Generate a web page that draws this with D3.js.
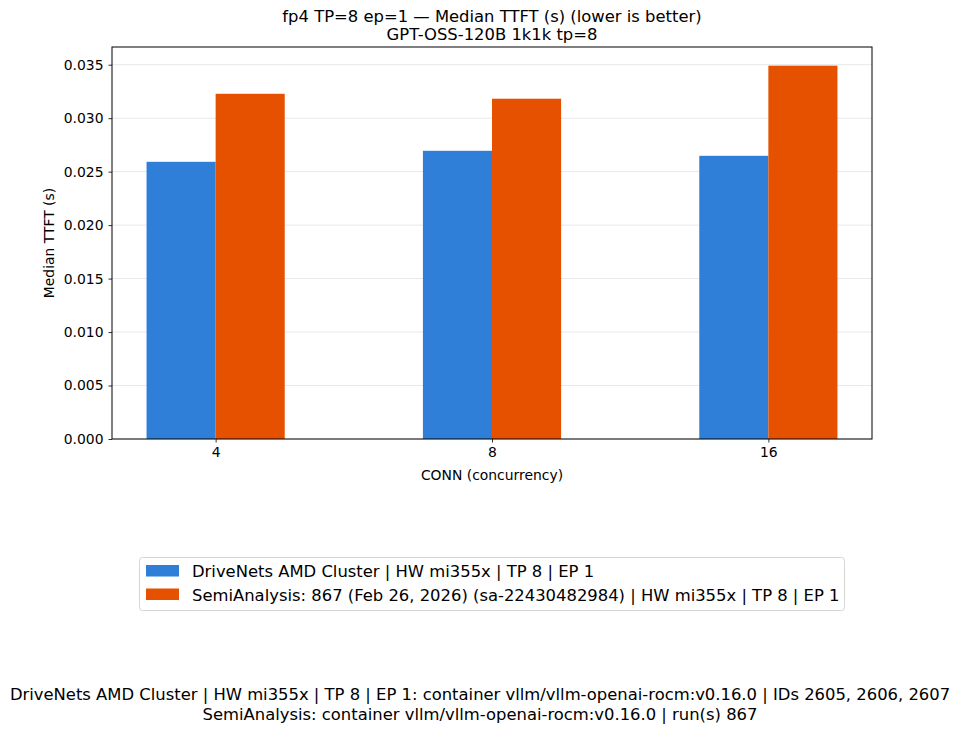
<!DOCTYPE html>
<html><head><meta charset="utf-8">
<script src="https://cdn.jsdelivr.net/npm/d3@7"></script>
<style>body{margin:0;background:#fff}svg{display:block;font-family:"DejaVu Sans",sans-serif}</style>
</head><body>
<svg id="c" width="960" height="732"></svg>
<script>
const categories = ["4", "8", "16"];
const seriesNames = [
  "DriveNets AMD Cluster | HW mi355x | TP 8 | EP 1",
  "SemiAnalysis: 867 (Feb 26, 2026) (sa-22430482984) | HW mi355x | TP 8 | EP 1"
];
const driveNets = [0.02592, 0.02695, 0.02648];
const semiAnalysis = [0.03228, 0.03182, 0.03491];
const yTicks = [0, 0.005, 0.01, 0.015, 0.02, 0.025, 0.03, 0.035];
const titleLines = ["fp4 TP=8 ep=1 — Median TTFT (s) (lower is better)", "GPT-OSS-120B 1k1k tp=8"];
const footLines = [
  "DriveNets AMD Cluster | HW mi355x | TP 8 | EP 1: container vllm/vllm-openai-rocm:v0.16.0 | IDs 2605, 2606, 2607",
  "SemiAnalysis: container vllm/vllm-openai-rocm:v0.16.0 | run(s) 867"
];
const colors = ["#2f7ed8", "#e65100"];

const svg = d3.select("#c");
const L = 112, R = 872, T = 47, B = 439;
const series = [driveNets, semiAnalysis];
const barW = 0.25;
const x = d3.scaleLinear().domain([-0.375, categories.length - 1 + 0.375]).range([L, R]);
const maxV = d3.max(series.flat());
const y = d3.scaleLinear().domain([0, maxV * 1.05]).range([B, T]);

// grid
svg.append("g").selectAll("line").data(yTicks).join("line")
  .attr("x1", L).attr("x2", R).attr("y1", d => y(d)).attr("y2", d => y(d))
  .attr("stroke", "#e8e8e8").attr("stroke-width", 1);

// bars
series.forEach((s, si) => {
  svg.append("g").selectAll("rect").data(s).join("rect")
    .attr("x", (d, i) => x(i + (si === 0 ? -barW : 0)))
    .attr("width", x(barW) - x(0))
    .attr("y", d => y(d)).attr("height", d => B - y(d))
    .attr("fill", colors[si]);
});

// axes
const yAxis = d3.axisLeft(y).tickValues(yTicks).tickFormat(d3.format(".3f")).tickSizeOuter(0).tickSize(3.5).tickPadding(5);
const gy = svg.append("g").attr("transform", `translate(${L},0)`).call(yAxis);
const xAxis = d3.axisBottom(x).tickValues(d3.range(categories.length)).tickFormat(i => categories[i]).tickSizeOuter(0).tickSize(3.5).tickPadding(5);
const gx = svg.append("g").attr("transform", `translate(0,${B})`).call(xAxis);
[gx, gy].forEach(g => {
  g.select(".domain").remove();
  g.selectAll("text").attr("font-size", 13.9).attr("fill", "#000").attr("font-family", "DejaVu Sans");
  g.selectAll("line").attr("stroke", "#000").attr("stroke-width", 0.8);
});
svg.append("rect").attr("x", L).attr("y", T).attr("width", R - L).attr("height", B - T)
  .attr("fill", "none").attr("stroke", "#000").attr("stroke-width", 1);

// labels
svg.append("text").attr("x", (L + R) / 2).attr("y", 480).attr("text-anchor", "middle")
  .attr("font-size", 13.9).text("CONN (concurrency)");
svg.append("text").attr("transform", `translate(54,${(T + B) / 2}) rotate(-90)`).attr("text-anchor", "middle")
  .attr("font-size", 13.9).text("Median TTFT (s)");

// title
titleLines.forEach((t, i) => svg.append("text").attr("x", (L + R) / 2).attr("y", 22 + i * 18)
  .attr("text-anchor", "middle").attr("font-size", 16.4).text(t));

// legend
const lg = svg.append("g");
lg.append("rect").attr("x", 139.5).attr("y", 557.5).attr("width", 705).attr("height", 53).attr("rx", 3)
  .attr("fill", "#fff").attr("stroke", "#d5d5d5").attr("stroke-width", 1);
seriesNames.forEach((n, i) => {
  lg.append("rect").attr("x", 146).attr("y", 565 + i * 23.5).attr("width", 33).attr("height", 11.5).attr("fill", colors[i]);
  lg.append("text").attr("x", 192).attr("y", 577 + i * 23.5).attr("font-size", 16.4).text(n);
});

// footnote
footLines.forEach((t, i) => svg.append("text").attr("x", 480).attr("y", 700 + i * 20)
  .attr("text-anchor", "middle").attr("font-size", 16.4).text(t));
</script>
</body></html>
